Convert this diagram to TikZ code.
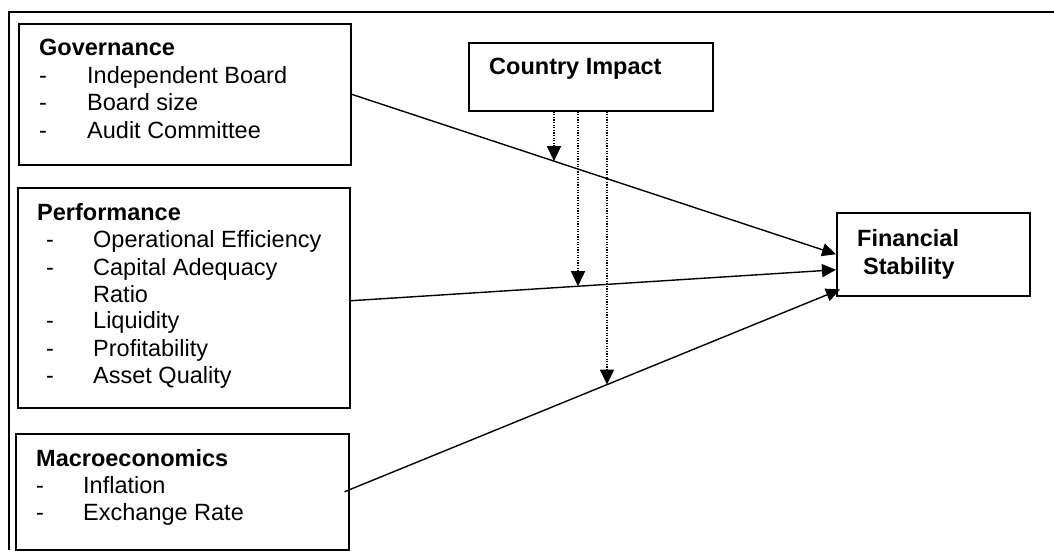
\documentclass[tikz,border=0pt]{standalone}
\usepackage{fontspec}
\setmainfont{Liberation Sans}
\usetikzlibrary{arrows.meta,intersections}

\begin{document}
\begin{tikzpicture}[x=1pt, y=-1pt,
    box/.style={draw, line width=1.5pt, inner sep=0pt, anchor=north west},
    txt/.style={anchor=base west, inner sep=0pt, font=\fontsize{23.5}{27}\selectfont},
    head/.style={txt, font=\fontsize{23.5}{27}\selectfont\bfseries},
    link/.style={line width=1.4pt, -{Triangle[length=14pt,width=13pt]}},
    effect/.style={line width=1.4pt, dash pattern=on 1.3pt off 1.3pt, -{Triangle[length=15pt,width=14pt]}}]
    \useasboundingbox (0,0) rectangle (1054,550);

    % Outer frame (cut off at right and bottom)
    \draw[line width=1.5pt] (1054,12) -- (9,12) -- (9,550);

    % Boxes
    \node[box, minimum width=332pt, minimum height=141pt] (gov) at (18,23) {};
    \node[box, minimum width=332pt, minimum height=220pt] (perf) at (17,187) {};
    \node[box, minimum width=333pt, minimum height=116pt] (mac) at (15,433) {};
    \node[box, minimum width=244pt, minimum height=68pt] (ci) at (468,42) {};
    \node[box, minimum width=193pt, minimum height=83pt] (fin) at (836,212) {};

    % Governance
    \node[head] (govhead) at (39,55) {Governance};
    \foreach \y/\item in {83/Independent Board, 110/Board size, 138/Audit Committee} {
        \node[txt] (govdash\y) at (39,\y) {-};
        \node[txt] (govitem\y) at (87,\y) {\item};
    }

    % Performance
    \node[head] (perfhead) at (37,220) {Performance};
    \foreach \y/\item in {247/Operational Efficiency, 275/Capital Adequacy, 328/Liquidity, 356/Profitability, 383/Asset Quality} {
        \node[txt] (perfdash\y) at (46,\y) {-};
        \node[txt] (perfitem\y) at (93,\y) {\item};
    }
    \node[txt] (perfratio) at (93,302) {Ratio};

    % Macroeconomics
    \node[head] (machead) at (36,466) {Macroeconomics};
    \foreach \y/\item in {493/Inflation, 520/Exchange Rate} {
        \node[txt] (macdash\y) at (36,\y) {-};
        \node[txt] (macitem\y) at (83,\y) {\item};
    }

    % Moderator and outcome
    \node[head] (cihead) at (489,74) {Country Impact};
    \node[head] (finhead1) at (857,246) {Financial};
    \node[head] (finhead2) at (863,274) {Stability};

    % Direct effects
    \draw[link, name path=govline] (gov.east) -- (fin.west);
    \draw[link, name path=perfline] ([yshift=-3pt]perf.east) -- ([yshift=-15.5pt]fin.west);
    \draw[link, name path=macline] ([xshift=-5pt]mac.east) -- ([xshift=4pt,yshift=7pt]fin.south west);

    % Moderating effects (dotted)
    \coordinate (cia) at ([xshift=86pt]ci.south west);
    \coordinate (cib) at ([xshift=110pt]ci.south west);
    \coordinate (cic) at ([xshift=139pt]ci.south west);
    \path[name path=vdrop1] (cia) -- ++(0,400);
    \path[name path=vdrop2] (cib) -- ++(0,400);
    \path[name path=vdrop3] (cic) -- ++(0,400);
    \path[name intersections={of=vdrop1 and govline, by=ga}];
    \path[name intersections={of=vdrop2 and perfline, by=pa}];
    \path[name intersections={of=vdrop3 and macline, by=ma}];
    \draw[effect] (cia) -- (ga);
    \draw[effect] (cib) -- (pa);
    \draw[effect] (cic) -- (ma);
\end{tikzpicture}
\end{document}
